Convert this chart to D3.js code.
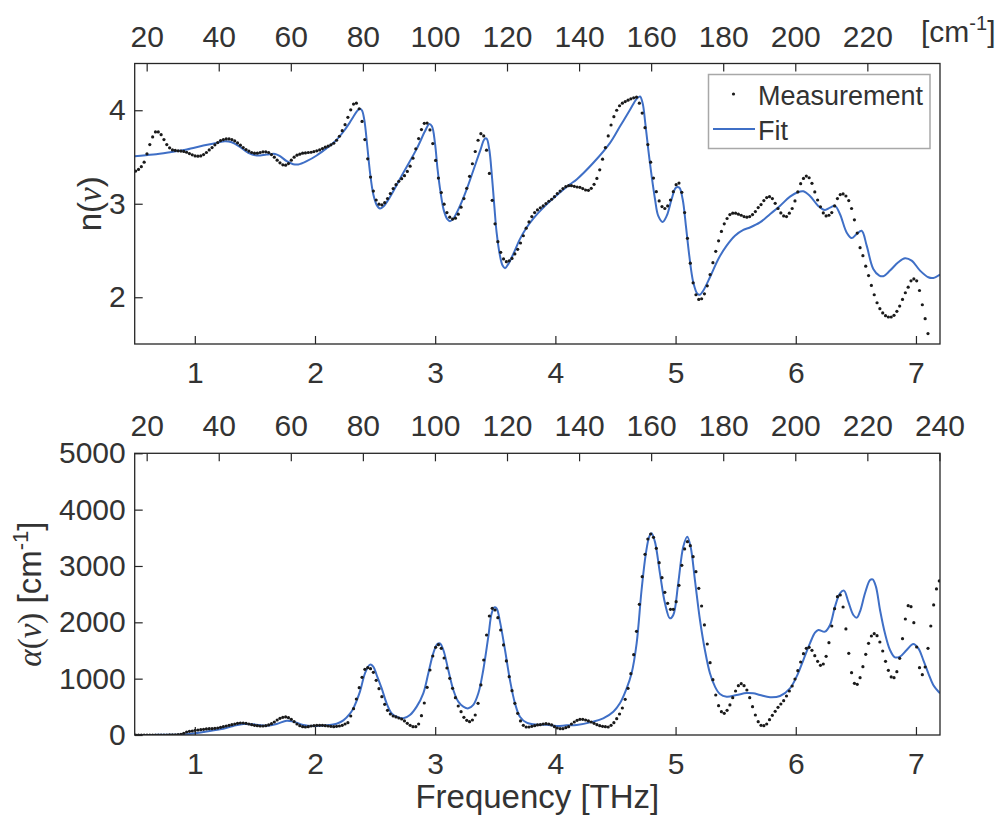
<!DOCTYPE html>
<html>
<head>
<meta charset="utf-8">
<script src="https://d3js.org/d3.v7.min.js"></script>
<style>
  body { margin: 0; background: #fff; }
  svg text { font-family: "Liberation Sans", Arial, Helvetica, sans-serif; fill: #333; }
</style>
</head>
<body>
<svg width="1006" height="826"></svg>
<script>
// measurement grid (THz)
var measStart = 0.508, measStep = 0.023543;

// refractive index, measured
var nMeas = [
  3.349,3.367,3.396,3.445,3.534,3.633,3.715,3.768,3.768,3.739,
  3.686,3.633,3.598,3.576,3.570,3.566,3.563,3.560,3.551,3.537,
  3.523,3.512,3.509,3.512,3.526,3.548,3.576,3.601,3.630,3.654,
  3.676,3.686,3.693,3.693,3.686,3.672,3.651,3.626,3.601,3.580,
  3.563,3.548,3.541,3.541,3.548,3.555,3.555,3.548,3.526,3.498,
  3.466,3.438,3.416,3.413,3.430,3.466,3.498,3.519,3.530,3.541,
  3.544,3.548,3.551,3.558,3.566,3.576,3.590,3.605,3.616,3.630,
  3.647,3.679,3.722,3.782,3.846,3.924,4.005,4.066,4.076,4.016,
  3.881,3.686,3.480,3.285,3.136,3.040,2.995,2.988,3.012,3.055,
  3.109,3.162,3.204,3.240,3.268,3.300,3.346,3.402,3.487,3.587,
  3.697,3.793,3.860,3.863,3.790,3.644,3.463,3.275,3.119,2.995,
  2.906,2.856,2.836,2.846,2.888,2.963,3.055,3.165,3.293,3.428,
  3.559,3.679,3.750,3.725,3.573,3.324,3.037,2.785,2.594,2.480,
  2.410,2.380,2.390,2.415,2.463,2.513,2.580,2.658,2.739,2.806,
  2.863,2.906,2.934,2.956,2.977,3.002,3.027,3.048,3.076,3.109,
  3.136,3.162,3.183,3.193,3.193,3.186,3.179,3.176,3.162,3.147,
  3.144,3.165,3.208,3.271,3.363,3.477,3.601,3.725,3.842,3.931,
  4.000,4.048,4.076,4.093,4.108,4.122,4.133,4.140,4.076,3.970,
  3.814,3.633,3.445,3.275,3.129,3.030,2.970,2.949,2.977,3.040,
  3.129,3.204,3.221,3.122,2.906,2.630,2.364,2.154,2.027,1.977,
  1.984,2.037,2.122,2.243,2.370,2.491,2.604,2.704,2.785,2.842,
  2.884,2.899,2.899,2.888,2.877,2.863,2.856,2.863,2.884,2.916,
  2.959,2.991,3.034,3.066,3.076,3.055,3.005,2.949,2.902,2.870,
  2.863,2.899,2.949,3.030,3.126,3.215,3.271,3.296,3.278,3.218,
  3.126,3.040,2.967,2.902,2.870,2.877,2.906,2.977,3.055,3.098,
  3.105,3.083,3.034,2.949,2.828,2.686,2.530,2.445,2.332,2.232,
  2.126,2.027,1.941,1.878,1.832,1.803,1.789,1.789,1.807,1.849,
  1.906,1.977,2.048,2.108,2.176,2.196,2.176,2.072,1.920,1.771,
  1.612
];

// absorption coefficient, measured (cm^-1)
var alphaMeas = [
  0,0,0,0,0,0,0,0,0,0,
  0,0,1,2,4,7,12,30,53,65,
  71,83,89,95,101,107,112,112,118,124,
  136,148,160,172,183,195,207,213,213,207,
  195,183,172,166,160,160,166,178,201,231,
  266,296,314,320,308,278,237,195,166,148,
  142,148,160,166,172,172,172,166,160,154,
  148,154,160,172,195,219,337,467,639,840,
  1024,1166,1195,1177,1112,970,822,680,544,438,
  373,337,320,302,284,249,207,172,148,148,
  195,343,568,846,1154,1402,1556,1604,1538,1367,
  1189,1006,828,663,515,414,314,260,237,266,
  355,562,888,1331,1775,2112,2249,2219,2083,1864,
  1598,1314,1035,787,562,385,249,172,142,142,
  154,166,178,183,195,201,195,178,148,124,
  112,112,130,148,195,231,260,278,278,266,
  249,231,207,183,166,154,148,142,172,219,
  290,373,479,633,828,1089,1426,1840,2319,2811,
  3207,3479,3568,3509,3313,3059,2793,2532,2337,2231,
  2231,2367,2657,3012,3302,3432,3361,3166,2899,2603,
  2290,1953,1615,1284,982,710,521,414,385,438,
  533,663,781,876,911,876,799,663,503,355,
  237,172,166,195,272,349,420,491,550,609,
  692,781,870,994,1142,1296,1444,1538,1556,1503,
  1408,1308,1237,1260,1396,1639,1935,2243,2456,2485,
  2272,1882,1450,1106,917,899,1018,1213,1432,1627,
  1757,1799,1763,1651,1491,1308,1148,1030,1018,1124,
  1361,1710,2059,2296,2278,1994,1562,1195,1071,1207,
  1538,1935,2308,2592,2734
];

// model fit, refractive index
var nFitFreq = [0.50,0.655,0.794,0.933,1.071,1.182,1.251,1.307,1.376,1.445,1.515,1.598,1.667,1.709,1.765,1.819,1.861,1.931,2.014,2.097,
  2.166,2.236,2.285,2.319,2.350,2.372,2.390,2.410,2.435,2.458,2.485,2.513,2.541,2.569,2.624,2.735,2.846,2.915,2.951,2.973,
  2.998,3.020,3.045,3.073,3.101,3.123,3.151,3.206,3.262,3.317,3.373,3.411,3.428,3.450,3.472,3.492,3.511,3.539,3.561,3.581,
  3.609,3.650,3.705,3.761,3.816,3.900,4.011,4.122,4.177,4.316,4.455,4.538,4.621,4.676,4.704,4.726,4.748,4.773,4.801,4.829,
  4.856,4.892,4.926,4.967,5.003,5.031,5.059,5.086,5.114,5.147,5.181,5.203,5.231,5.286,5.356,5.425,5.494,5.564,5.619,5.702,
  5.785,5.868,5.952,6.021,6.063,6.118,6.187,6.243,6.285,6.326,6.368,6.423,6.465,6.506,6.548,6.590,6.645,6.695,6.728,6.784,
  6.853,6.909,6.964,7.034,7.103,7.145,7.200];
var nFitVal = [3.509,3.526,3.551,3.580,3.622,3.651,3.669,3.658,3.608,3.544,3.516,3.526,3.533,3.509,3.455,3.423,3.420,3.455,3.516,3.595,
  3.665,3.770,3.860,3.930,3.990,4.015,4.000,3.899,3.615,3.332,3.101,2.988,2.949,2.970,3.072,3.332,3.587,3.775,3.853,3.828,
  3.651,3.367,3.119,2.924,2.836,2.814,2.842,2.977,3.154,3.356,3.562,3.693,3.697,3.580,3.296,2.977,2.694,2.445,2.339,2.311,
  2.357,2.463,2.622,2.746,2.842,2.959,3.090,3.208,3.260,3.438,3.651,3.828,4.005,4.122,4.147,4.076,3.863,3.580,3.296,3.048,
  2.870,2.806,2.870,3.048,3.172,3.172,3.048,2.764,2.445,2.161,2.037,2.027,2.072,2.214,2.410,2.552,2.658,2.720,2.746,2.800,
  2.888,2.977,3.076,3.126,3.133,3.083,2.977,2.934,2.959,2.977,2.888,2.693,2.633,2.675,2.711,2.552,2.303,2.232,2.225,2.285,
  2.374,2.417,2.392,2.285,2.214,2.207,2.243];

// model fit, absorption
var alphaFitFreq = [0.50,0.655,0.794,0.933,1.071,1.21,1.321,1.404,1.487,1.598,1.681,1.765,1.82,1.903,1.986,2.097,2.18,2.236,2.291,2.319,
  2.374,2.416,2.458,2.485,2.513,2.555,2.596,2.638,2.679,2.735,2.79,2.846,2.901,2.943,2.984,3.018,3.04,3.068,3.109,3.151,
  3.192,3.234,3.276,3.317,3.359,3.4,3.442,3.47,3.492,3.511,3.539,3.581,3.622,3.664,3.705,3.761,3.844,3.927,4.011,4.094,
  4.177,4.315,4.398,4.482,4.537,4.593,4.634,4.676,4.717,4.753,4.781,4.8,4.828,4.87,4.912,4.953,4.981,5.022,5.064,5.097,
  5.125,5.161,5.203,5.244,5.286,5.328,5.369,5.425,5.508,5.591,5.646,5.702,5.786,5.869,5.952,6.007,6.063,6.118,6.16,6.188,
  6.243,6.285,6.326,6.368,6.401,6.437,6.479,6.507,6.534,6.576,6.618,6.64,6.667,6.701,6.742,6.784,6.825,6.867,6.923,6.978,
  7.02,7.061,7.103,7.144,7.2];
var alphaFitVal = [0,2,5,15,53,101,160,195,189,166,195,254,237,178,160,172,200,260,380,473,
  769,1095,1249,1213,1065,828,562,385,325,296,355,503,740,1095,1450,1615,1627,1509,1154,799,
  592,503,473,533,740,1154,1746,2160,2266,2249,2012,1509,976,562,325,219,183,183,160,172,
  178,237,296,414,562,828,1095,1627,2574,3225,3521,3580,3432,2870,2337,2071,2130,2692,3343,3521,
  3343,2751,2041,1509,1095,858,728,680,710,745,740,710,669,692,828,1035,1331,1627,1817,1864,
  1834,1953,2278,2515,2562,2367,2130,2083,2189,2515,2751,2763,2633,2219,1805,1509,1379,1391,1509,1615,
  1538,1331,1095,888,740];

// ticks
var thzTicks = [1, 2, 3, 4, 5, 6, 7];
var cmTicksTop = [20, 40, 60, 80, 100, 120, 140, 160, 180, 200, 220];
var cmTicksBottom = [20, 40, 60, 80, 100, 120, 140, 160, 180, 200, 220, 240];
var nTicks = [2, 3, 4];
var alphaTicks = [0, 1000, 2000, 3000, 4000, 5000];
var cmPerTHz = 33.356;

var svg = d3.select("svg");
var axisColor = "#262626";
var fitColor = "#3f6fc6";
var serif = "'Liberation Serif', 'DejaVu Serif', serif";
var left = 134.7, right = 940;

var x = d3.scaleLinear().domain([0.5, 7.2]).range([left, right]);
var yN = d3.scaleLinear().domain([1.5, 4.5]).range([344, 63.5]);
var yA = d3.scaleLinear().domain([0, 5000]).range([735, 453.3]);

function measFreq(i) { return measStart + i * measStep; }

function styleAxis(g) {
  g.attr("font-size", null).attr("font-family", null);
  g.select(".domain").remove();
  g.selectAll(".tick line").attr("stroke", axisColor).attr("stroke-width", 1.2);
  g.selectAll(".tick text").style("font-size", "30px").attr("fill", "#333");
}

function drawPanel(y, yTicks, cmTicks, meas, fitF, fitV, id) {
  var top = y.range()[1], bottom = y.range()[0];

  svg.append("clipPath").attr("id", id)
    .append("rect").attr("x", left).attr("y", top)
    .attr("width", right - left).attr("height", bottom - top);

  var plot = svg.append("g").attr("clip-path", "url(#" + id + ")");

  // fit line
  var line = d3.line()
    .x(function(d) { return x(d[0]); })
    .y(function(d) { return y(d[1]); })
    .curve(d3.curveCatmullRom.alpha(0.5));
  plot.append("path")
    .datum(fitF.map(function(f, i) { return [f, fitV[i]]; }))
    .attr("fill", "none").attr("stroke", fitColor).attr("stroke-width", 2)
    .attr("d", line);

  // measurement dots
  plot.selectAll(".dot-" + id).data(meas).enter()
    .append("circle").attr("class", "dot-" + id)
    .attr("cx", function(d, i) { return x(measFreq(i)); })
    .attr("cy", function(d) { return y(d); })
    .attr("r", 1.6).attr("fill", "#1a1a1a");

  // axes
  svg.append("g").attr("transform", "translate(0," + bottom + ")")
    .call(d3.axisBottom(x).tickValues(thzTicks).tickSize(-8).tickPadding(18).tickFormat(d3.format("d")))
    .call(styleAxis);

  svg.append("g").attr("transform", "translate(0," + top + ")")
    .call(d3.axisTop(x).tickValues(cmTicks.map(function(c) { return c / cmPerTHz; }))
      .tickSize(-8).tickPadding(17)
      .tickFormat(function(d, i) { return cmTicks[i]; }))
    .call(styleAxis);

  svg.append("g").attr("transform", "translate(" + left + ",0)")
    .call(d3.axisLeft(y).tickValues(yTicks).tickSize(-8).tickPadding(9).tickFormat(d3.format("d")))
    .call(styleAxis);

  svg.append("rect")
    .attr("x", left).attr("y", top)
    .attr("width", right - left).attr("height", bottom - top)
    .attr("fill", "none").attr("stroke", axisColor).attr("stroke-width", 1.3);
}

drawPanel(yN, nTicks, cmTicksTop, nMeas, nFitFreq, nFitVal, "clipN");
drawPanel(yA, alphaTicks, cmTicksBottom, alphaMeas, alphaFitFreq, alphaFitVal, "clipA");

// unit label for the top wavenumber axis
var cmLab = svg.append("text").attr("x", 921).attr("y", 42).style("font-size", "30px");
cmLab.append("tspan").text("[cm");
cmLab.append("tspan").attr("dy", -12).style("font-size", "20px").text("-1");
cmLab.append("tspan").attr("dy", 12).text("]");

// y labels
var nLab = svg.append("text")
  .attr("transform", "translate(101," + ((63.5 + 344) / 2) + ") rotate(-90)")
  .attr("text-anchor", "middle").style("font-size", "33px");
nLab.append("tspan").text("n(");
nLab.append("tspan").style("font-family", serif).style("font-style", "italic").text("ν");
nLab.append("tspan").text(")");

var aLab = svg.append("text")
  .attr("transform", "translate(41," + ((453.3 + 735) / 2) + ") rotate(-90)")
  .attr("text-anchor", "middle").style("font-size", "33px");
aLab.append("tspan").style("font-family", serif).style("font-style", "italic").text("α");
aLab.append("tspan").style("font-family", serif).text("(");
aLab.append("tspan").style("font-family", serif).style("font-style", "italic").text("ν");
aLab.append("tspan").style("font-family", serif).text(")");
aLab.append("tspan").text(" [cm");
aLab.append("tspan").attr("dy", -13).style("font-size", "22px").text("-1");
aLab.append("tspan").attr("dy", 13).text("]");

// x label
svg.append("text").attr("x", (left + right) / 2).attr("y", 808)
  .attr("text-anchor", "middle").style("font-size", "33px")
  .text("Frequency [THz]");

// legend
var lg = svg.append("g");
lg.append("rect").attr("x", 708.5).attr("y", 74.5).attr("width", 221.5).attr("height", 74)
  .attr("fill", "#fff").attr("stroke", "#a8a8a8").attr("stroke-width", 1.5);
lg.append("circle").attr("cx", 733.5).attr("cy", 94).attr("r", 1.6).attr("fill", "#1a1a1a");
lg.append("line").attr("x1", 713).attr("x2", 755).attr("y1", 129).attr("y2", 129)
  .attr("stroke", fitColor).attr("stroke-width", 2);
lg.append("text").attr("x", 758).attr("y", 105).style("font-size", "27px").text("Measurement");
lg.append("text").attr("x", 758).attr("y", 140).style("font-size", "27px").text("Fit");
</script>
</body>
</html>
